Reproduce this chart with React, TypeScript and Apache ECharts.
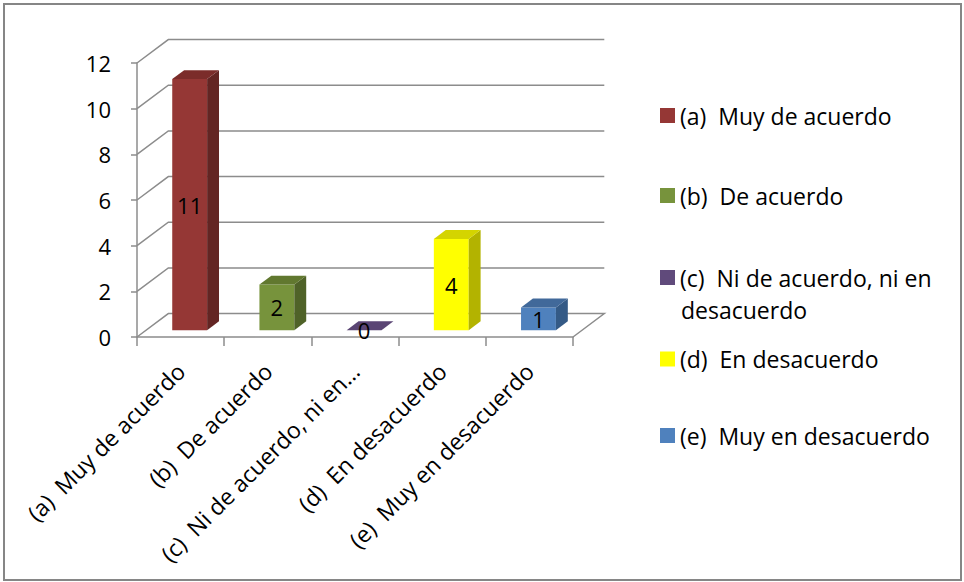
import { useEffect, useRef } from 'react';
import * as echarts from 'echarts';

const categories = [
  '(a)  Muy de acuerdo',
  '(b)  De acuerdo',
  '(c)  Ni de acuerdo, ni en desacuerdo',
  '(d)  En desacuerdo',
  '(e)  Muy en desacuerdo',
];
const axisLabels = [
  '(a)  Muy de acuerdo',
  '(b)  De acuerdo',
  '(c)  Ni de acuerdo, ni en…',
  '(d)  En desacuerdo',
  '(e)  Muy en desacuerdo',
];
const values = [11, 2, 0, 4, 1];
const yTicks = [0, 2, 4, 6, 8, 10, 12];
const frontColors = ['#953735', '#77933c', '#604a7b', '#ffff00', '#4f81bd'];
const sideColors = ['#632523', '#4f6228', '#3f3151', '#b3b300', '#345a86'];
const topColors = ['#7b2c2a', '#61782f', '#5a4574', '#d4d400', '#41699a'];
const legendCenters = [115.5, 195.5, 277.5, 359, 435.5];

const FONT = 'Open Sans';
const GRID_COLOR = '#8c8c8c';
const DX = 31.3;
const DY = -23.4;
const FRONT_DEPTH = 0.29;
const BAR_DEPTH = 0.38;
const BAR_WIDTH = 0.4;

export default function App() {
  const ref = useRef<HTMLDivElement>(null);
  useEffect(() => {
    if (!ref.current) return;
    const chart = echarts.init(ref.current, undefined, { renderer: 'svg' });

    const wallSeries = {
      type: 'custom',
      name: 'walls',
      silent: true,
      z: 1,
      data: yTicks.map((v) => [0, v]),
      renderItem: (params: any, api: any) => {
        const cs = params.coordSys;
        const v = api.value(1);
        const y = api.coord([0, v])[1];
        const x0 = cs.x;
        const x1 = cs.x + cs.width;
        const pts = [
          [x0, y],
          [x0 + DX, y + DY],
          [x1 + DX, y + DY],
        ];
        if (v === 0) pts.push([x1, y]);
        return {
          type: 'polyline',
          shape: { points: pts },
          style: { stroke: GRID_COLOR, lineWidth: 1.5, fill: null },
        };
      },
    };

    const barSeries = categories.map((name, i) => ({
      type: 'custom',
      name,
      z: 3,
      itemStyle: { color: frontColors[i] },
      data: [[i, values[i]]],
      renderItem: (params: any, api: any) => {
        const idx = api.value(0);
        const v = api.value(1);
        const top = api.coord([idx, v]);
        const base = api.coord([idx, 0]);
        const band = api.size([1, 0])[0];
        const w = band * BAR_WIDTH;
        const ox = DX * FRONT_DEPTH;
        const oy = DY * FRONT_DEPTH;
        const dx = DX * BAR_DEPTH;
        const dy = DY * BAR_DEPTH;
        const xl = top[0] - w / 2 + ox;
        const xr = top[0] + w / 2 + ox;
        const yt = top[1] + oy;
        const yb = base[1] + oy;
        const children: any[] = [];
        if (yb - yt > 0.1) {
          children.push({
            type: 'rect',
            shape: { x: xl, y: yt, width: w, height: yb - yt },
            style: { fill: frontColors[i] },
          });
          children.push({
            type: 'polygon',
            shape: { points: [[xr, yt], [xr + dx, yt + dy], [xr + dx, yb + dy], [xr, yb]] },
            style: { fill: sideColors[i] },
          });
        }
        children.push({
          type: 'polygon',
          shape: { points: [[xl, yt], [xl + dx, yt + dy], [xr + dx, yt + dy], [xr, yt]] },
          style: { fill: topColors[i] },
        });
        children.push({
          type: 'text',
          z2: 10,
          style: {
            text: String(v),
            x: (xl + xr) / 2,
            y: (yt + yb) / 2,
            align: 'center',
            verticalAlign: 'middle',
            fontSize: 22,
            fontFamily: FONT,
            fill: '#000',
          },
        });
        return { type: 'group', children };
      },
    }));

    const legends = categories.map((name, i) => ({
      data: [name],
      orient: 'vertical',
      left: 660,
      top: legendCenters[i] - 13,
      padding: 0,
      icon: 'rect',
      itemWidth: 15,
      itemHeight: 15,
      selectedMode: false,
      formatter: (n: string) => (i === 2 ? '(c)  Ni de acuerdo, ni en' : n),
      textStyle: { fontSize: 23, lineHeight: 26, fontFamily: FONT, color: '#000' },
    }));

    chart.setOption({
      animation: false,
      backgroundColor: '#fff',
      grid: { left: 137, top: 63, width: 436, height: 274, containLabel: false },
      xAxis: {
        type: 'category',
        data: axisLabels,
        boundaryGap: true,
        axisLine: { show: true, lineStyle: { color: GRID_COLOR, width: 1.5 } },
        axisTick: { show: true, length: 9, lineStyle: { color: GRID_COLOR, width: 1.5 } },
        axisLabel: {
          interval: 0,
          rotate: 45,
          margin: 30,
          fontSize: 23,
          fontFamily: FONT,
          color: '#000',
        },
        splitLine: { show: false },
      },
      yAxis: {
        type: 'value',
        min: 0,
        max: 12,
        interval: 2,
        axisLine: { show: true, lineStyle: { color: GRID_COLOR, width: 1.5 } },
        axisTick: { show: true, length: 6, lineStyle: { color: GRID_COLOR, width: 1.5 } },
        axisLabel: { margin: 26, fontSize: 22, fontFamily: FONT, color: '#000' },
        splitLine: { show: false },
      },
      legend: legends,
      graphic: [
        {
          type: 'rect',
          silent: true,
          shape: { x: 4, y: 4, width: 957, height: 576 },
          style: { fill: 'none', stroke: '#868686', lineWidth: 2 },
        },
        {
          type: 'text',
          silent: true,
          x: 681,
          y: legendCenters[2] + 32.5,
          style: {
            text: 'desacuerdo',
            fontSize: 23,
            fontFamily: FONT,
            fill: '#000',
            verticalAlign: 'middle',
          },
        },
      ],
      series: [wallSeries, ...barSeries],
    });
    return () => chart.dispose();
  }, []);
  return (
    <div
      ref={ref}
      style={{ position: 'absolute', left: 0, top: 0, width: 964, height: 582, background: '#fff' }}
    />
  );
}
